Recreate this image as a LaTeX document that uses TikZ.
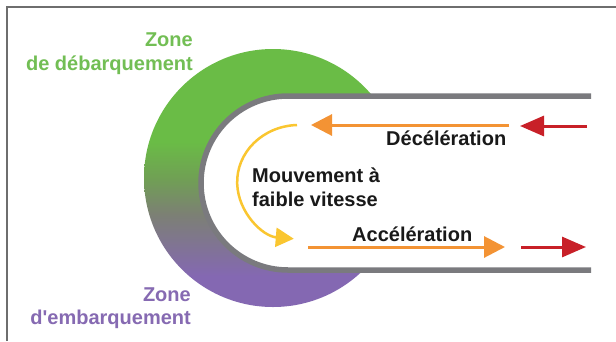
\documentclass[tikz,border=0pt]{standalone}
\usepackage{fontspec}
\setmainfont{Liberation Sans}
\usetikzlibrary{arrows.meta}
\definecolor{grn}{RGB}{106,188,70}
\definecolor{grn2}{RGB}{112,160,84}
\definecolor{grntxt}{RGB}{114,190,84}
\definecolor{midc}{RGB}{124,128,116}
\definecolor{purp}{RGB}{132,104,178}
\definecolor{purptxt}{RGB}{134,106,178}
\definecolor{track}{RGB}{122,122,126}
\definecolor{orng}{RGB}{243,147,52}
\definecolor{redd}{RGB}{200,32,40}
\definecolor{yell}{RGB}{250,198,48}
\definecolor{txt}{RGB}{25,25,25}
\definecolor{framec}{RGB}{110,110,110}
\pgfdeclareverticalshading{zoneshade}{100bp}{color(0bp)=(purp); color(31bp)=(purp); color(43bp)=(midc); color(50bp)=(grn2); color(57bp)=(grn); color(100bp)=(grn)}
\begin{document}
\begin{tikzpicture}[x=1pt,y=-1pt,
  lab/.style={font=\bfseries\fontsize{20}{24}\selectfont, inner sep=0pt},
  orarr/.style={draw=orng, line width=3pt, -{Triangle[length=21pt,width=21pt,fill=orng]}},
  rdarr/.style={draw=redd, line width=3pt, -{Triangle[length=24pt,width=20pt,fill=redd]}},
  ylarr/.style={draw=yell, line width=2.5pt, -{Triangle[length=18pt,width=19pt,fill=yell]}},
  trackline/.style={draw=track, line width=5.5pt}]
\useasboundingbox (0,0) rectangle (616,341);
\fill[white] (0,0) rectangle (616,341);
% frame
\draw[framec, line width=1.4pt] (7,341) -- (7,7) -- (616,7);
% zone ring
\shade[shading=zoneshade] (273,178) circle[radius=129];
\fill[white] (600,96) -- (288,96) arc[start angle=270, end angle=90, radius=87] -- (600,270) -- cycle;
\draw[trackline] (591,96) -- (288,96) arc[start angle=270, end angle=90, radius=87] -- (591,270);
% labels
\node[lab, text=grntxt, anchor=base east] (zd1) at (193,46) {Zone};
\node[lab, text=grntxt, anchor=base east] (zd2) at (193,70) {de débarquement};
\node[lab, text=purptxt, anchor=base east] (ze1) at (191,301) {Zone};
\node[lab, text=purptxt, anchor=base east] (ze2) at (191,324) {d\textquotesingle embarquement};
\node[lab, text=txt, anchor=base west] (dec) at (386,145) {Décélération};
\node[lab, text=txt, anchor=base west] (mv1) at (252,182) {Mouvement à};
\node[lab, text=txt, anchor=base west] (mv2) at (252,206) {faible vitesse};
\node[lab, text=txt, anchor=base west] (acc) at (352,241) {Accélération};
% arrow endpoints
\coordinate (d1s) at (509,125);
\coordinate (d1e) at (311,125);
\coordinate (d2s) at (587,126);
\coordinate (d2e) at (520,126);
\coordinate (a1s) at (308,247);
\coordinate (a1e) at (505,247);
\coordinate (a2s) at (521,247);
\coordinate (a2e) at (586,247);
\coordinate (ys) at (297,125);
% arrows
\draw[orarr] (d1s) -- (d1e);
\draw[rdarr] (d2s) -- (d2e);
\draw[orarr] (a1s) -- (a1e);
\draw[rdarr] (a2s) -- (a2e);
\draw[ylarr] (ys) arc[start angle=268, end angle=95, x radius=62, y radius=57];
\end{tikzpicture}
\end{document}
